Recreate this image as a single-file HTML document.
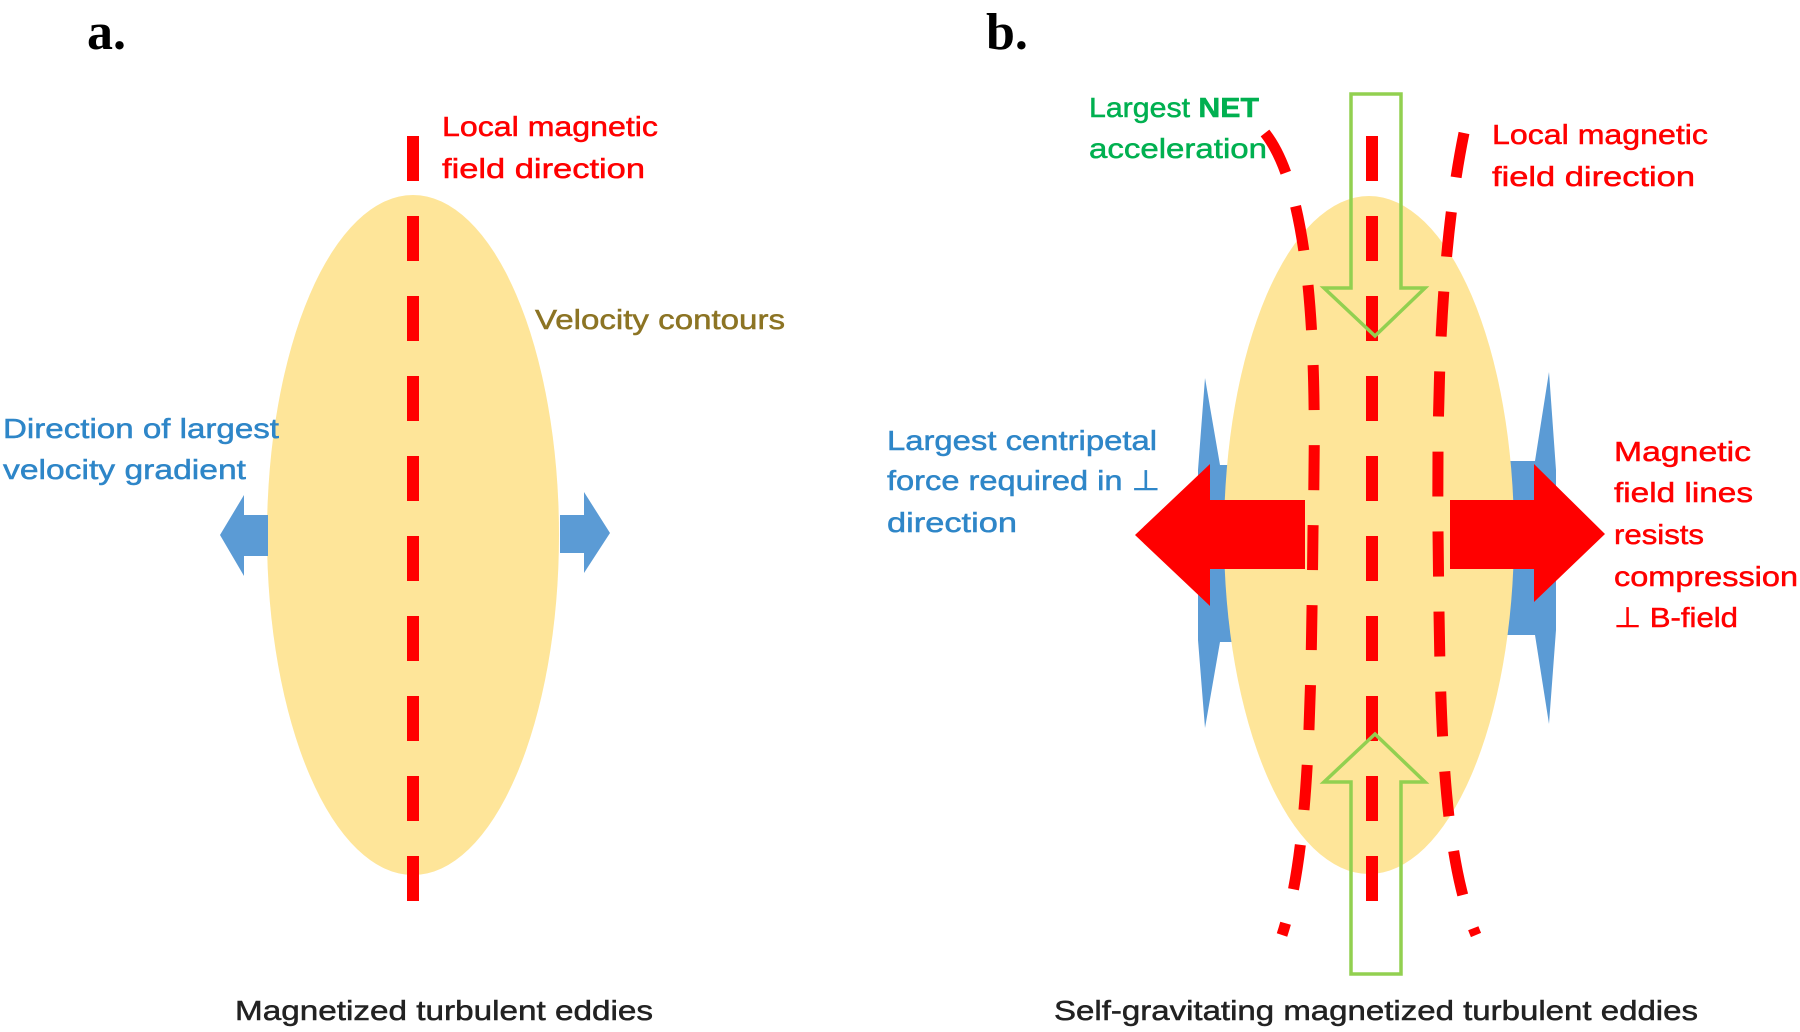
<!DOCTYPE html>
<html><head><meta charset="utf-8"><style>
html,body{margin:0;padding:0;background:#fff;width:1800px;height:1032px;overflow:hidden}
svg{display:block}
text{font-family:"Liberation Sans",sans-serif;font-size:28px;stroke-width:0.5px}
</style></head><body>
<svg width="1800" height="1032" viewBox="0 0 1800 1032" xmlns="http://www.w3.org/2000/svg">
<text x="87" y="49" style="font-family:'Liberation Serif',serif;font-weight:bold;font-size:52px">a.</text>
<text x="986" y="49" style="font-family:'Liberation Serif',serif;font-weight:bold;font-size:52px">b.</text>

<ellipse cx="413" cy="535" rx="146" ry="340" fill="#fee599"/>
<polygon points="268,515 244,515 244,495 220,535 244,576 244,556 268,556" fill="#5b9bd5"/>
<polygon points="560,515 584,515 584,492 610,533 584,573 584,553 560,553" fill="#5b9bd5"/>
<line x1="413" y1="136" x2="413" y2="903" stroke="#ff0000" stroke-width="12" stroke-dasharray="45 35"/>
<text x="442" y="136" fill="#ff0000" stroke="#ff0000" textLength="216" lengthAdjust="spacingAndGlyphs">Local magnetic</text>
<text x="442" y="178" fill="#ff0000" stroke="#ff0000" textLength="203" lengthAdjust="spacingAndGlyphs">field direction</text>
<text x="535" y="329" fill="#8c7424" stroke="#8c7424" textLength="250" lengthAdjust="spacingAndGlyphs">Velocity contours</text>
<text x="3" y="438" fill="#2e86c8" stroke="#2e86c8" textLength="276" lengthAdjust="spacingAndGlyphs">Direction of largest</text>
<text x="3" y="479" fill="#2e86c8" stroke="#2e86c8" textLength="243" lengthAdjust="spacingAndGlyphs">velocity gradient</text>
<text x="235" y="1020" fill="#222" stroke="#222" textLength="418" lengthAdjust="spacingAndGlyphs">Magnetized turbulent eddies</text>

<polygon points="1205,378 1220,465 1245,465 1245,642 1220,642 1205,728 1198,640 1198,470" fill="#5b9bd5"/>
<polygon points="1549,372 1535,461 1505,461 1505,635 1535,635 1549,724 1556,630 1556,470" fill="#5b9bd5"/>
<ellipse cx="1369" cy="535" rx="145" ry="339" fill="#fee599"/>
<polygon points="1305,500 1210,500 1210,464 1135,535 1210,606 1210,569 1305,569" fill="#ff0000"/>
<polygon points="1450,500 1534,500 1534,464 1605,534 1534,602 1534,569 1450,569" fill="#ff0000"/>
<path d="M1265,133 C1318,200 1316,400 1313,530 C1311,700 1310,850 1282,935" fill="none" stroke="#ff0000" stroke-width="11" stroke-dasharray="45 35"/>
<path d="M1464,133 C1440,250 1437,400 1438,530 C1440,700 1440,850 1476,935" fill="none" stroke="#ff0000" stroke-width="11" stroke-dasharray="45 35"/>
<line x1="1372" y1="136" x2="1372" y2="903" stroke="#ff0000" stroke-width="12" stroke-dasharray="45 35"/>
<polygon points="1351,94 1401,94 1401,288 1425,288 1375,336 1324,288 1351,288" fill="none" stroke="#92d050" stroke-width="3.5"/>
<polygon points="1351,974 1401,974 1401,782 1425,782 1375,734 1324,782 1351,782" fill="none" stroke="#92d050" stroke-width="3.5"/>
<text x="1089" y="117" fill="#00b050" stroke="#00b050" textLength="170" lengthAdjust="spacingAndGlyphs">Largest <tspan font-weight="bold">NET</tspan></text>
<text x="1089" y="158" fill="#00b050" stroke="#00b050" textLength="178" lengthAdjust="spacingAndGlyphs">acceleration</text>
<text x="1492" y="144" fill="#ff0000" stroke="#ff0000" textLength="216" lengthAdjust="spacingAndGlyphs">Local magnetic</text>
<text x="1492" y="186" fill="#ff0000" stroke="#ff0000" textLength="203" lengthAdjust="spacingAndGlyphs">field direction</text>
<text x="887" y="450" fill="#2e86c8" stroke="#2e86c8" textLength="270" lengthAdjust="spacingAndGlyphs">Largest centripetal</text>
<text x="887" y="490" fill="#2e86c8" stroke="#2e86c8" textLength="273" lengthAdjust="spacingAndGlyphs">force required in ⊥</text>
<text x="887" y="532" fill="#2e86c8" stroke="#2e86c8" textLength="130" lengthAdjust="spacingAndGlyphs">direction</text>
<text x="1614" y="461" fill="#ff0000" stroke="#ff0000" textLength="137" lengthAdjust="spacingAndGlyphs">Magnetic</text>
<text x="1614" y="502" fill="#ff0000" stroke="#ff0000" textLength="139" lengthAdjust="spacingAndGlyphs">field lines</text>
<text x="1614" y="544" fill="#ff0000" stroke="#ff0000" textLength="90" lengthAdjust="spacingAndGlyphs">resists</text>
<text x="1614" y="586" fill="#ff0000" stroke="#ff0000" textLength="184" lengthAdjust="spacingAndGlyphs">compression</text>
<text x="1614" y="627" fill="#ff0000" stroke="#ff0000" textLength="124" lengthAdjust="spacingAndGlyphs">⊥ B-field</text>
<text x="1054" y="1020" fill="#222" stroke="#222" textLength="644" lengthAdjust="spacingAndGlyphs">Self-gravitating magnetized turbulent eddies</text>
</svg>
</body></html>
